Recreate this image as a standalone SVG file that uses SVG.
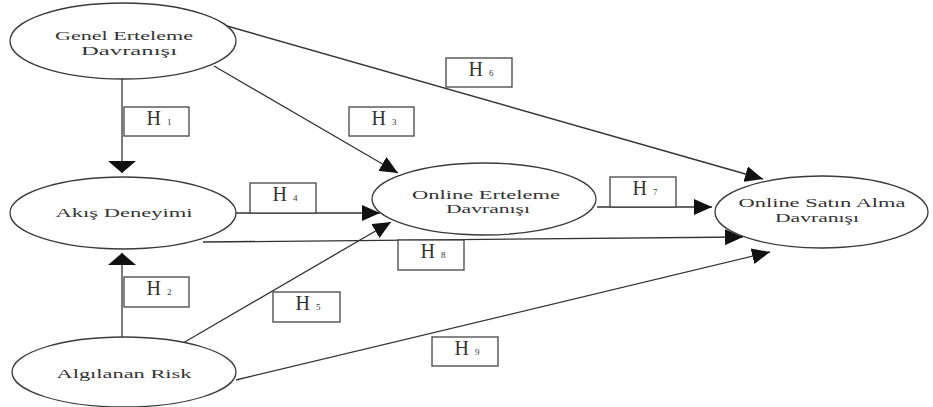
<svg xmlns="http://www.w3.org/2000/svg" width="933" height="407" viewBox="0 0 933 407">
<style>
.node{fill:#fff;stroke:#3a3a3a;stroke-width:1.3}
.lbl{font-family:"Liberation Serif","Times New Roman",serif;font-size:13.5px;fill:#333;text-anchor:middle}
.edge{stroke:#333;stroke-width:1.3;fill:none}
.box{fill:#fff;stroke:#444;stroke-width:1.3}
.h{font-family:"Liberation Serif","Times New Roman",serif;font-size:20px;fill:#333;text-anchor:middle}
.sub{font-size:9px}
</style>
<defs>
<marker id="ah" viewBox="0 -8 18 16" refX="18" refY="0" markerWidth="18" markerHeight="16" markerUnits="userSpaceOnUse" orient="auto">
<path d="M0,-8 L18,0 L0,8 z" fill="#111"/>
</marker>
<marker id="av" viewBox="0 -14 12 28" refX="12" refY="0" markerWidth="12" markerHeight="28" markerUnits="userSpaceOnUse" orient="auto">
<path d="M0,-14 L12,0 L0,14 z" fill="#111"/>
</marker>
</defs>
<g id="connectors">
<line class="edge" x1="122" y1="79" x2="122" y2="173" marker-end="url(#av)"/>
<line class="edge" x1="122" y1="337" x2="122" y2="253" marker-end="url(#av)"/>
<line class="edge" x1="214" y1="66" x2="398" y2="173" marker-end="url(#ah)"/>
<line class="edge" x1="236" y1="213" x2="380" y2="213" marker-end="url(#ah)"/>
<line class="edge" x1="183" y1="343" x2="391" y2="222" marker-end="url(#ah)"/>
<line class="edge" x1="213" y1="22" x2="763" y2="179" marker-end="url(#ah)"/>
<line class="edge" x1="597" y1="207" x2="712" y2="207" marker-end="url(#ah)"/>
<line class="edge" x1="203" y1="242" x2="743" y2="237" marker-end="url(#ah)"/>
<line class="edge" x1="236" y1="380" x2="770" y2="252" marker-end="url(#ah)"/>
</g>
<g id="labels">
<g id="h1"><rect class="box" x="124" y="107" width="65" height="29"/><text class="h" x="159" y="125">H<tspan class="sub" dx="6">1</tspan></text></g>
<g id="h2"><rect class="box" x="124" y="277" width="65" height="30"/><text class="h" x="159" y="295">H<tspan class="sub" dx="6">2</tspan></text></g>
<g id="h3"><rect class="box" x="349" y="107" width="65" height="29"/><text class="h" x="384" y="125">H<tspan class="sub" dx="6">3</tspan></text></g>
<g id="h4"><rect class="box" x="250" y="183" width="66" height="30"/><text class="h" x="285" y="201">H<tspan class="sub" dx="6">4</tspan></text></g>
<g id="h5"><rect class="box" x="273" y="292" width="67" height="30"/><text class="h" x="308" y="310">H<tspan class="sub" dx="6">5</tspan></text></g>
<g id="h6"><rect class="box" x="446" y="58" width="66" height="29"/><text class="h" x="481" y="76">H<tspan class="sub" dx="6">6</tspan></text></g>
<g id="h7"><rect class="box" x="610" y="177" width="66" height="30"/><text class="h" x="645" y="195">H<tspan class="sub" dx="6">7</tspan></text></g>
<g id="h8"><rect class="box" x="398" y="240" width="66" height="30"/><text class="h" x="433" y="258">H<tspan class="sub" dx="6">8</tspan></text></g>
<g id="h9"><rect class="box" x="432" y="337" width="66" height="29"/><text class="h" x="467" y="355">H<tspan class="sub" dx="6">9</tspan></text></g>
</g>
<g id="genel">
<ellipse class="node" cx="123" cy="41" rx="113" ry="38"/>
<text class="lbl" x="124" y="40" textLength="138" lengthAdjust="spacingAndGlyphs">Genel Erteleme</text>
<text class="lbl" x="129" y="55" textLength="96" lengthAdjust="spacingAndGlyphs">Davranışı</text>
</g>
<g id="akis">
<ellipse class="node" cx="123" cy="213" rx="113" ry="36"/>
<text class="lbl" x="124" y="217" textLength="137" lengthAdjust="spacingAndGlyphs">Akış Deneyimi</text>
</g>
<g id="algilanan">
<ellipse class="node" cx="124" cy="372" rx="112" ry="35"/>
<text class="lbl" x="124" y="378" textLength="135" lengthAdjust="spacingAndGlyphs">Algılanan Risk</text>
</g>
<g id="online-erteleme">
<ellipse class="node" cx="484" cy="199" rx="112" ry="36"/>
<text class="lbl" x="486" y="199" textLength="148" lengthAdjust="spacingAndGlyphs">Online Erteleme</text>
<text class="lbl" x="488" y="213" textLength="84" lengthAdjust="spacingAndGlyphs">Davranışı</text>
</g>
<g id="online-satin">
<ellipse class="node" cx="821.5" cy="212" rx="106.5" ry="36"/>
<text class="lbl" x="822" y="207" textLength="167" lengthAdjust="spacingAndGlyphs">Online Satın Alma</text>
<text class="lbl" x="817" y="222" textLength="84" lengthAdjust="spacingAndGlyphs">Davranışı</text>
</g>
</svg>
